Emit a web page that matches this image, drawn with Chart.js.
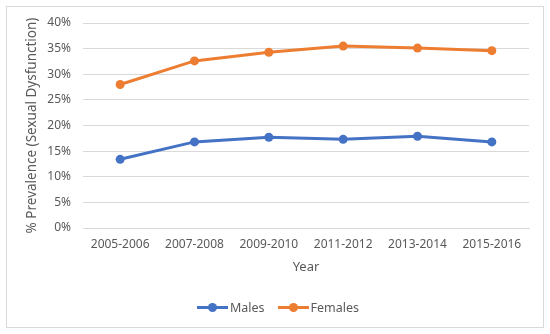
<!DOCTYPE html>
<html lang="en">
<head>
  <meta charset="UTF-8">
  <title>Prevalence of Sexual Dysfunction</title>
  <script src="https://cdn.jsdelivr.net/npm/chart.js@4"></script>
  <style>
    html, body { margin: 0; padding: 0; background: #fff; }
    body { width: 550px; height: 334px; position: relative; overflow: hidden; font-family: 'Noto Sans', sans-serif; }
    #frame { position: absolute; left: 6px; top: 6px; width: 536px; height: 320px; border: 1px solid #d9d9d9; pointer-events: none; }
    #wrap { position: absolute; left: 0; top: 0; width: 550px; height: 334px; }
    .legend { position: absolute; top: 299px; left: 0; width: 556px; display: flex; justify-content: center; gap: 13px; font-size: 12.5px; color: #595959; }
    .legend-item { display: flex; align-items: center; }
    .swatch { position: relative; width: 31px; height: 3px; margin-right: 2px; }
    .swatch::after { content: ''; position: absolute; left: 11px; top: -3px; width: 9px; height: 9px; border-radius: 50%; background: inherit; }
  </style>
</head>
<body>
  <div id="wrap"><canvas id="chart" width="550" height="334"></canvas></div>
  <div id="frame"></div>
  <div class="legend" id="legend"></div>

  <script>
    const years = ['2005-2006', '2007-2008', '2009-2010', '2011-2012', '2013-2014', '2015-2016'];
    const males = [13.4, 16.8, 17.7, 17.3, 17.9, 16.8];
    const females = [28.0, 32.6, 34.3, 35.5, 35.1, 34.6];
    const yTicks = [0, 5, 10, 15, 20, 25, 30, 35, 40];

    const BLUE = '#4472C4';
    const ORANGE = '#ED7D31';
    const TEXT = '#595959';
    const GRID = '#d9d9d9';

    const series = [
      { label: 'Males', data: males, color: BLUE },
      { label: 'Females', data: females, color: ORANGE },
    ];

    // legend (line with a dot, like the office chart)
    document.getElementById('legend').innerHTML = series.map(s => `
      <span class="legend-item"><span class="swatch" style="background:${s.color}"></span>${s.label}</span>`).join('');

    new Chart(document.getElementById('chart'), {
      type: 'line',
      data: {
        labels: years,
        datasets: series.map(s => ({
          label: s.label,
          data: s.data,
          borderColor: s.color,
          backgroundColor: s.color,
          borderWidth: 3,
          pointRadius: 4.5,
          pointHoverRadius: 4.5,
          pointBorderWidth: 0,
          pointBackgroundColor: s.color,
          tension: 0,
          fill: false
        }))
      },
      options: {
        responsive: false,
        animation: false,
        devicePixelRatio: 1,
        layout: { padding: { left: 12, right: 21, top: 23, bottom: 56 } },
        plugins: { legend: { display: false }, tooltip: { enabled: false } },
        scales: {
          x: {
            offset: true,
            grid: { display: false, drawTicks: false },
            border: { color: GRID, width: 1 },
            ticks: { color: TEXT, font: { family: 'Noto Sans', size: 12 }, padding: 9, maxRotation: 0 },
            title: { display: true, text: 'Year', color: TEXT, font: { family: 'Noto Sans', size: 13 }, padding: { top: 4, bottom: 3 } },
            afterFit: s => { s.height = 50; }
          },
          y: {
            min: 0,
            max: 40,
            afterBuildTicks: s => { s.ticks = yTicks.map(v => ({ value: v })); },
            grid: { color: GRID, lineWidth: 1, drawTicks: false },
            border: { display: false },
            ticks: { color: TEXT, font: { family: 'Noto Sans', size: 12 }, padding: 12, callback: v => v + '%' },
            title: { display: true, text: '% Prevalence (Sexual Dysfunction)', color: TEXT, font: { family: 'Noto Sans', size: 13.5 }, padding: { top: 12, bottom: 0 } },
            afterFit: s => { s.width = 71; }
          }
        }
      }
    });
  </script>
</body>
</html>
